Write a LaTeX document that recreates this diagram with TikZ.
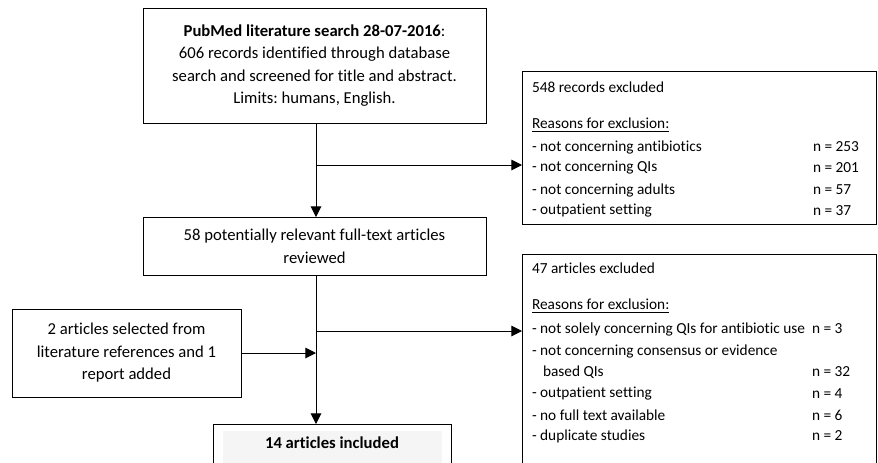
\documentclass[tikz,border=0pt]{standalone}
\usepackage{fontspec}
\setmainfont[Ligatures=NoCommon]{Carlito}
\usetikzlibrary{arrows.meta}
\frenchspacing
\begin{document}
\begin{tikzpicture}[x=0.75pt,y=-0.75pt,
  every node/.style={inner sep=0pt, outer sep=0pt},
  box/.style={draw, line width=0.75pt, anchor=north west, align=center,
    font=\fontsize{12.5}{16.9}\selectfont},
  txt/.style={anchor=west, font=\fontsize{11.5}{13}\selectfont},
  arr/.style={line width=0.75pt, -{Triangle[length=8pt,width=8pt]}},
  ln/.style={line width=0.75pt}]
\useasboundingbox (0,0) rectangle (878,462);
\clip (0,0) rectangle (878,462);
% top box
\node[box, minimum width=343*0.75pt, minimum height=115*0.75pt] (top) at (143,8)
  {\textbf{PubMed literature search 28-07-2016}:\\606 records identified through database\\search and screened for title and abstract.\\Limits: humans, English.};
% middle box
\node[box, minimum width=343*0.75pt, minimum height=58*0.75pt] (mid) at (143,217)
  {58 potentially relevant full-text articles\\reviewed};
% left box
\node[box, minimum width=229*0.75pt, minimum height=88*0.75pt] (add) at (12,309)
  {2 articles selected from\\literature references and 1\\report added};
% excluded box 1
\node[draw, line width=0.75pt, anchor=north west, minimum width=354*0.75pt, minimum height=153*0.75pt] (ex1) at (522,71) {};
\node[txt] (e1a) at (532,87) {548 records excluded};
\node[txt] (e1b) at (532,125) {\underline{Reasons for exclusion:}};
\node[txt] (e1c) at (532,147) {- not concerning antibiotics};
\node[txt] (e1d) at (532,168) {- not concerning QIs};
\node[txt] (e1e) at (532,190) {- not concerning adults};
\node[txt] (e1f) at (532,211) {- outpatient setting};
\node[txt] (n1c) at (813,147) {n = 253};
\node[txt] (n1d) at (813,168) {n = 201};
\node[txt] (n1e) at (813,190) {n = 57};
\node[txt] (n1f) at (813,211) {n = 37};
% excluded box 2
\node[draw, line width=0.75pt, anchor=north west, minimum width=354*0.75pt, minimum height=230*0.75pt] (ex2) at (522,254) {};
\node[txt] (e2a) at (532,268) {47 articles excluded};
\node[txt] (e2b) at (532,306) {\underline{Reasons for exclusion:}};
\node[txt] (e2c) at (532,329) {- not solely concerning QIs for antibiotic use};
\node[txt] (e2d) at (532,351) {- not concerning consensus or evidence};
\node[txt] (e2e) at (543,372) {based QIs};
\node[txt] (e2f) at (532,394) {- outpatient setting};
\node[txt] (e2g) at (532,415) {- no full text available};
\node[txt] (e2h) at (532,436) {- duplicate studies};
\node[txt] (n2c) at (812,329) {n = 3};
\node[txt] (n2e) at (812,372) {n = 32};
\node[txt] (n2f) at (812,394) {n = 4};
\node[txt] (n2g) at (812,415) {n = 6};
\node[txt] (n2h) at (812,436) {n = 2};
% included box
\node[draw, line width=0.75pt, anchor=north west, minimum width=238*0.75pt, minimum height=60*0.75pt] (inc) at (213,424) {};
\fill[black!4] (223,431) rectangle (442,470);
\node[font=\fontsize{12.5}{14}\selectfont\bfseries] (inct) at (332,443) {14 articles included};
% connectors
\coordinate (v1) at (316,123);
\coordinate (b1) at (316,165);
\coordinate (v2) at (316,275);
\coordinate (b2) at (316,331);
\draw[ln] (v1) -- (b1);
\draw[arr] (b1) -- (b1 |- mid.north);
\draw[arr] (b1) -- (b1 -| ex1.west);
\draw[ln] (v2) -- (b2);
\draw[arr] (b2) -- (b2 |- inc.north);
\draw[arr] (b2) -- (b2 -| ex2.west);
\draw[arr] (add.east) -- (add.east -| b2);
\end{tikzpicture}
\end{document}
